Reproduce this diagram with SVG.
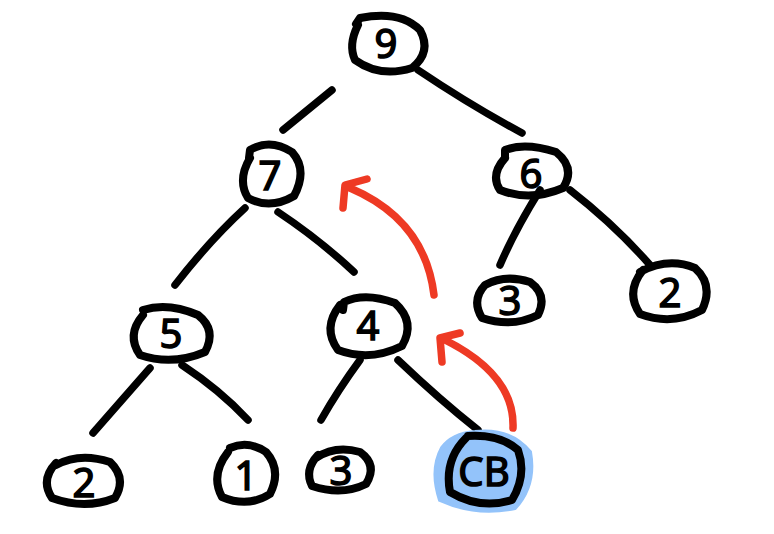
<svg xmlns="http://www.w3.org/2000/svg" width="774" height="534" viewBox="0 0 774 534">
<style>
.n{fill:none;stroke:#000;stroke-width:8;stroke-linecap:round;stroke-linejoin:round}
.e{fill:none;stroke:#000;stroke-width:7.5;stroke-linecap:round}
.r{fill:none;stroke:#EE3A24;stroke-width:7.5;stroke-linecap:round;stroke-linejoin:round}
.t{font-family:"Noto Sans","DejaVu Sans",sans-serif;font-size:40px;fill:#000;text-anchor:middle;stroke:#000;stroke-width:1.5}
</style>
<rect width="774" height="534" fill="#fff"/>
<g id="edges">
<path class="e" d="M283,130 L332,90"/>
<path class="e" d="M418,70 Q470,105 522,133"/>
<path class="e" d="M175,285 Q210,240 245,208"/>
<path class="e" d="M278,212 Q320,240 354,272"/>
<path class="e" d="M540,190 Q515,230 500,265"/>
<path class="e" d="M570,190 Q615,225 650,265"/>
<path class="e" d="M150,368 L93,433"/>
<path class="e" d="M182,365 Q220,390 248,420"/>
<path class="e" d="M360,360 Q338,390 321,420"/>
<path class="e" d="M398,360 Q440,400 478,430"/>
<path class="r" d="M434,295 Q425,220 350,188 M343,208 L345,185 L367,179"/>
<path class="r" d="M513,428 Q515,375 445,340 M442,362 L440,338 L460,333"/>
</g>
<g id="n9"><path class="n" d="M358,25 Q348,45 355,60 Q380,78 412,68 Q432,52 420,30 Q400,10 360,18 L356,24"/><text class="t" x="386" y="58">9</text></g>
<g id="n7"><path class="n" d="M250,158 Q237,180 248,198 Q270,210 294,196 Q308,170 292,152 Q270,138 250,150 L249,158"/><text class="t" x="270" y="190">7</text></g>
<g id="n6"><path class="n" d="M505,158 Q490,175 500,190 Q530,202 563,188 Q576,168 556,152 Q525,142 505,150 L505,158"/><text class="t" x="531" y="188">6</text></g>
<g id="n5"><path class="n" d="M143,315 Q126,335 140,355 Q172,366 205,352 Q217,330 198,315 Q168,302 143,310"/><text class="t" x="171" y="348">5</text></g>
<g id="n4"><path class="n" d="M340,305 Q322,328 338,350 Q370,362 402,346 Q416,322 395,303 Q365,292 344,302 L343,310"/><text class="t" x="368" y="340">4</text></g>
<g id="n3a"><path class="n" d="M485,285 Q471,300 482,318 Q512,328 538,315 Q548,295 530,282 Q505,274 485,285"/><text class="t" x="510" y="315">3</text></g>
<g id="n2a"><path class="n" d="M643,270 Q625,292 640,314 Q672,326 702,310 Q714,285 695,268 Q668,257 640,272"/><text class="t" x="670" y="307">2</text></g>
<g id="n2b"><path class="n" d="M56,463 Q40,480 52,498 Q85,510 115,498 Q127,478 110,462 Q80,452 56,465"/><text class="t" x="84" y="497">2</text></g>
<g id="n1"><path class="n" d="M228,452 Q210,475 222,497 Q248,508 270,494 Q282,470 266,452 Q248,440 230,448"/><text class="t" x="246" y="490">1</text></g>
<g id="n3b"><path class="n" d="M318,455 Q304,470 312,486 Q342,496 366,484 Q378,465 360,452 Q335,445 316,458"/><text class="t" x="341" y="485">3</text></g>
<g id="nCB"><path d="M442,448 Q430,470 440,500 Q475,516 515,508 Q536,485 530,452 Q510,428 475,432 Q452,434 442,448Z" fill="#93C3FA" stroke="#93C3FA" stroke-width="4"/><path class="n" d="M466,438 Q444,460 450,492 Q480,510 512,500 Q527,475 518,450 Q500,434 468,436"/><text class="t" x="484" y="486">CB</text></g>
</svg>
